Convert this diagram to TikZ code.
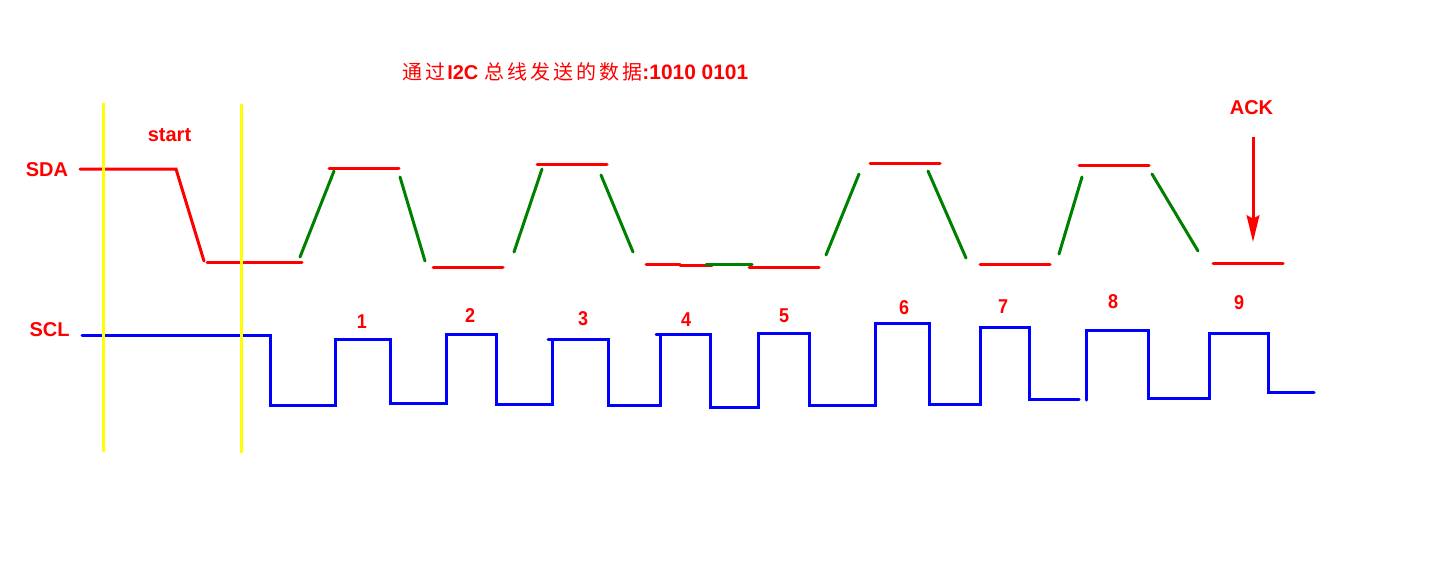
\documentclass[tikz,border=0pt]{standalone}
\usepackage{fontspec}
\setmainfont{Liberation Sans}
\newfontfamily\cjk[LetterSpace=15]{Noto Sans CJK SC}
\usetikzlibrary{arrows.meta}
\definecolor{sigred}{RGB}{255,0,0}
\definecolor{siggreen}{RGB}{0,128,0}
\definecolor{sigblue}{RGB}{0,0,255}
\definecolor{markyellow}{RGB}{255,255,0}
\tikzstyle{level} = [draw=sigred, line width=2.25pt, line cap=round]
\tikzstyle{edge} = [draw=siggreen, line width=2.25pt, line cap=round]
\tikzstyle{clock} = [draw=sigblue, line width=2.25pt, line cap=round, line join=miter]
\tikzstyle{marker} = [draw=markyellow, line width=2.25pt]
\tikzstyle{caption} = [text=sigred, inner sep=0pt, font=\fontsize{15}{18}\selectfont\bfseries]
\tikzstyle{count} = [text=sigred, inner sep=0pt, xscale=0.9, font=\fontsize{15}{18}\selectfont\bfseries]
\tikzstyle{ackarrow} = [draw=sigred, line width=2.25pt, -{Stealth[length=20pt, width=9.5pt, inset=2.5pt]}]

\begin{document}
\begin{tikzpicture}[x=0.75pt, y=-0.75pt]
      \useasboundingbox (0, 0) rectangle (1442, 587);
      \node [caption, anchor=west] at (402, 72) (title) {{\cjk\mdseries\fontsize{15}{18}\selectfont 通过}\hspace{1.5pt}I2C\hspace{4.5pt}{\cjk\mdseries\fontsize{15}{18}\selectfont 总线发送的数据}\fontsize{15.7}{18}\selectfont :1010 0101};
      \node [caption] at (47, 170) (sda) {SDA};
      \node [caption] at (49.5, 330) (scl) {SCL};
      \node [caption] at (169.5, 135) (start) {start};
      \node [caption] at (1251.5, 108) (ack) {ACK};
      \node [count] at (362, 322) (n1) {1};
      \node [count] at (470, 316) (n2) {2};
      \node [count] at (583, 319) (n3) {3};
      \node [count] at (686, 320) (n4) {4};
      \node [count] at (784, 316) (n5) {5};
      \node [count] at (904, 308) (n6) {6};
      \node [count] at (1003, 307) (n7) {7};
      \node [count] at (1113, 302) (n8) {8};
      \node [count] at (1239, 303) (n9) {9};
      \path [level] (80, 169) -- (176, 169) -- (204, 261);
      \path [level] (207, 262) -- (302, 262);
      \path [level] (329, 168) -- (399, 168);
      \path [level] (433, 267) -- (503, 267);
      \path [level] (537, 164) -- (607, 164);
      \path [level] (646, 264.5) -- (680, 264.5);
      \path [level] (680, 265.5) -- (712, 265.5);
      \path [level] (749, 267) -- (819, 267);
      \path [level] (870, 163) -- (940, 163);
      \path [level] (980, 264) -- (1050, 264);
      \path [level] (1079, 165) -- (1149, 165);
      \path [level] (1213, 263) -- (1283, 263);
      \path [edge] (300, 257) -- (334, 171);
      \path [edge] (400, 177) -- (425, 261);
      \path [edge] (514, 252) -- (542, 169);
      \path [edge] (601, 175) -- (633, 252);
      \path [edge] (706, 264) -- (752, 264);
      \path [edge] (826, 255) -- (859, 174);
      \path [edge] (928, 171) -- (966, 258);
      \path [edge] (1059, 254) -- (1082, 177);
      \path [edge] (1152, 174) -- (1198, 251);
      \path [clock] (82, 335) -| (270, 405) -| (335, 339) -| (390, 403) -| (446, 334) -| (496, 404) -| (552, 339) -| (608, 405) -| (660, 334) -| (710, 407) -| (758, 333) -| (809, 405) -| (875, 323) -| (929, 404) -| (980, 327) -| (1029, 399) -- (1079, 399);
      \path [clock] (548, 339) -- (552, 339);
      \path [clock] (656, 334) -- (660, 334);
      \path [clock] (1086.5, 400) |- (1148, 330) |- (1209, 398) |- (1268, 333) |- (1314, 392);
      \path [marker] (103, 103) -- (103, 452);
      \path [marker] (241, 104) -- (241, 453);
      \coordinate (acktop) at (1253, 137);
      \coordinate (acktip) at (1253, 242);
      \path [ackarrow] (acktop) -- (acktip);
    \end{tikzpicture}
\end{document}
